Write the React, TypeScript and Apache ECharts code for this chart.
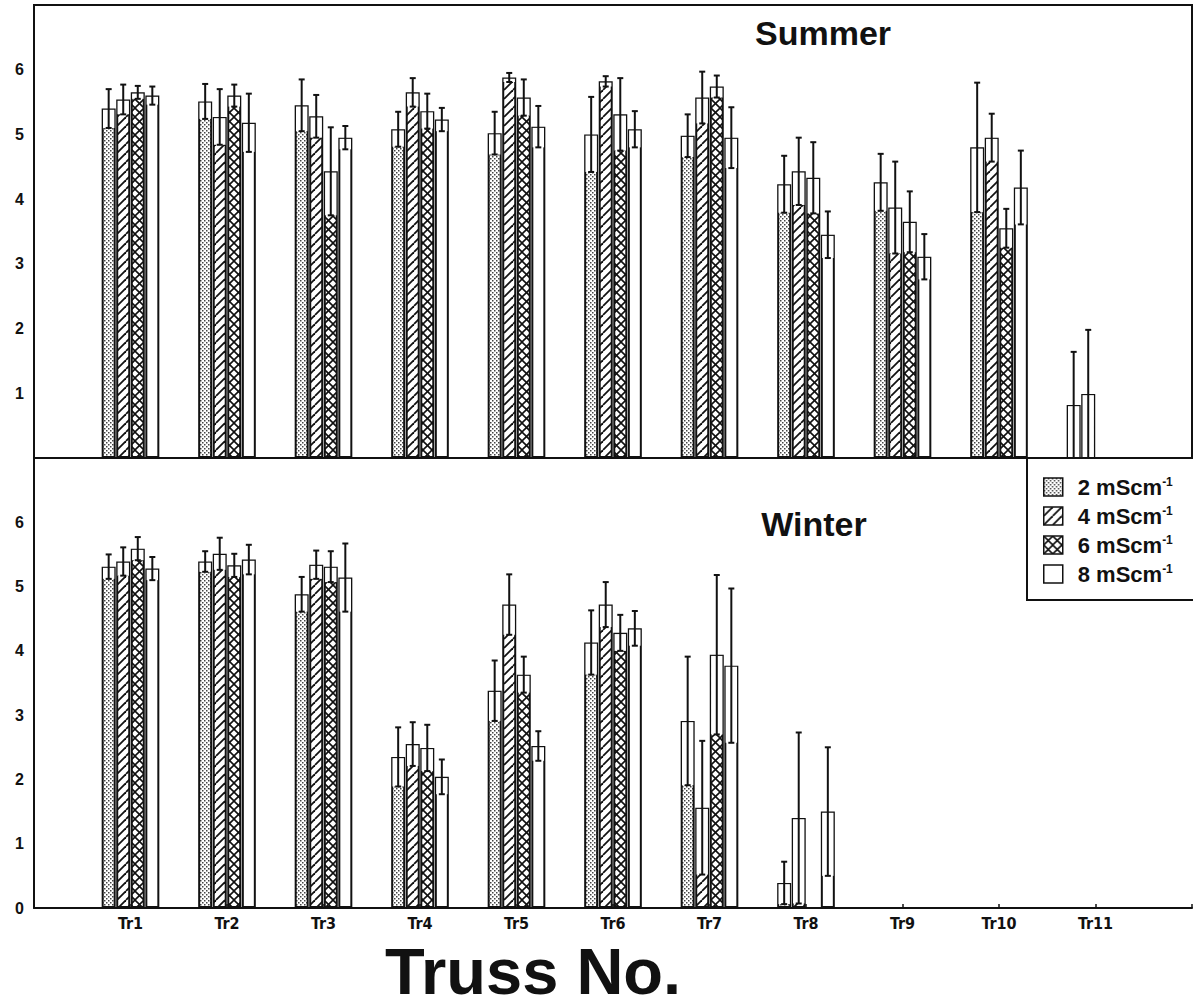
import React, { useEffect, useRef } from "react";
import * as echarts from "echarts";

// Truss labels along the shared x axis
const categories = ["Tr1", "Tr2", "Tr3", "Tr4", "Tr5", "Tr6", "Tr7", "Tr8", "Tr9", "Tr10", "Tr11"];
const levels = ["2 mScm-1", "4 mScm-1", "6 mScm-1", "8 mScm-1"];

// Summer panel: means and error half-widths per EC level
const summer2 = [5.4, 5.51, 5.45, 5.08, 5.02, 5.0, 4.98, 4.23, 4.26, 4.8, 0.82];
const summer2Err = [0.3, 0.27, 0.4, 0.27, 0.33, 0.58, 0.33, 0.44, 0.44, 1.0, 0.82];
const summer4 = [5.54, 5.27, 5.28, 5.65, 5.88, 5.82, 5.57, 4.43, 3.87, 4.95, 0.99];
const summer4Err = [0.23, 0.43, 0.33, 0.22, 0.07, 0.08, 0.4, 0.52, 0.71, 0.37, 0.99];
const summer6 = [5.65, 5.6, 4.43, 5.36, 5.57, 5.31, 5.74, 4.33, 3.65, 3.55, null];
const summer6Err = [0.1, 0.17, 0.68, 0.27, 0.28, 0.56, 0.17, 0.55, 0.47, 0.3, null];
const summer8 = [5.6, 5.18, 4.95, 5.23, 5.12, 5.08, 4.95, 3.45, 3.11, 4.18, null];
const summer8Err = [0.14, 0.45, 0.18, 0.18, 0.32, 0.28, 0.47, 0.36, 0.35, 0.57, null];

// Winter panel
const winter2 = [5.31, 5.39, 4.88, 2.35, 3.38, 4.13, 2.91, 0.39, null, null, null];
const winter2Err = [0.19, 0.16, 0.27, 0.46, 0.47, 0.5, 1.0, 0.33, null, null, null];
const winter4 = [5.39, 5.51, 5.34, 2.55, 4.72, 4.72, 1.56, 1.4, null, null, null];
const winter4Err = [0.22, 0.25, 0.22, 0.34, 0.47, 0.35, 1.04, 1.33, null, null, null];
const winter6 = [5.59, 5.33, 5.31, 2.49, 3.63, 4.28, 3.94, null, null, null, null];
const winter6Err = [0.18, 0.18, 0.24, 0.36, 0.28, 0.28, 1.24, null, null, null, null];
const winter8 = [5.28, 5.42, 5.14, 2.04, 2.52, 4.35, 3.77, 1.5, null, null, null];
const winter8Err = [0.18, 0.23, 0.53, 0.27, 0.23, 0.27, 1.2, 1.0, null, null, null];

// y axis range shared by both panels
const valueMin = 0;
const valueMax = 7;
const valueStep = 1;

const INK = "#111";
const FONT = '"Liberation Sans", Arial, Helvetica, sans-serif';
const NARROW = '"Liberation Sans Narrow", "Arial Narrow", "DejaVu Sans Condensed", "Liberation Sans", Arial, sans-serif';
const BAR_W = 0.145; // bar width as a share of the category band
const BAR_GAP = 0.04; // gap between bars as a share of bar width

type Num = number | null;

function tile(size: number, draw: (ctx: CanvasRenderingContext2D, s: number) => void) {
  const c = document.createElement("canvas");
  c.width = size;
  c.height = size;
  const ctx = c.getContext("2d") as CanvasRenderingContext2D;
  ctx.fillStyle = "#fff";
  ctx.fillRect(0, 0, size, size);
  draw(ctx, size);
  return { image: c, repeat: "repeat", imageWidth: size, imageHeight: size } as any;
}

function buildFills() {
  const dots = tile(4, (ctx) => {
    ctx.fillStyle = "#444";
    ctx.fillRect(0, 0, 1.5, 1.5);
    ctx.fillRect(2, 2, 1.5, 1.5);
  });
  const hatch = tile(9, (ctx, s) => {
    ctx.strokeStyle = INK;
    ctx.lineWidth = 1.8;
    for (let k = -1; k <= 1; k++) {
      ctx.beginPath();
      ctx.moveTo(k * s, s);
      ctx.lineTo(k * s + s, 0);
      ctx.stroke();
    }
  });
  const cross = tile(9, (ctx, s) => {
    ctx.strokeStyle = INK;
    ctx.lineWidth = 1.6;
    for (let k = -1; k <= 1; k++) {
      ctx.beginPath();
      ctx.moveTo(k * s, s);
      ctx.lineTo(k * s + s, 0);
      ctx.stroke();
      ctx.beginPath();
      ctx.moveTo(k * s, 0);
      ctx.lineTo(k * s + s, s);
      ctx.stroke();
    }
  });
  return [dots, hatch, cross, "#ffffff"];
}

// pad with empty slots so that Tr1..Tr11 sit at positions 1..11 of a 0..12 axis
const xSlots = ["", ...categories, ""];
const pad = (arr: Num[]) => [null, ...arr, null];

function errorRenderer(level: number) {
  return (params: any, api: any) => {
    const xi = api.value(0);
    const v = api.value(1);
    const e = api.value(2);
    const bw = api.size([1, 0])[0];
    const w = bw * BAR_W;
    const g = w * BAR_GAP;
    const total = 4 * w + 3 * g;
    const base = api.coord([xi, 0]);
    const cx = base[0] - total / 2 + level * (w + g) + w / 2;
    const yTop = api.coord([xi, v + e])[1];
    const yVal = api.coord([xi, v])[1];
    const yLow = api.coord([xi, Math.max(v - e, 0)])[1];
    const cap = 3;
    return {
      type: "group",
      children: [
        {
          type: "rect",
          shape: { x: cx - w / 2 + 1.3, y: yVal + 1.2, width: w - 2.6, height: Math.max(yLow - yVal - 1.2, 0) },
          style: { fill: "#fff" },
        },
        { type: "line", shape: { x1: cx, y1: yTop, x2: cx, y2: yLow }, style: { stroke: INK, lineWidth: 2 } },
        { type: "line", shape: { x1: cx - cap, y1: yTop, x2: cx + cap, y2: yTop }, style: { stroke: INK, lineWidth: 2 } },
        { type: "line", shape: { x1: cx - cap, y1: yLow, x2: cx + cap, y2: yLow }, style: { stroke: INK, lineWidth: 2 } },
      ],
    };
  };
}

export default function App() {
  const ref = useRef<HTMLDivElement>(null);

  useEffect(() => {
    if (!ref.current) return;
    const chart = echarts.init(ref.current, null, { renderer: "svg" });
    const fills = buildFills();

    const panels = [
      { means: [summer2, summer4, summer6, summer8], errs: [summer2Err, summer4Err, summer6Err, summer8Err] },
      { means: [winter2, winter4, winter6, winter8], errs: [winter2Err, winter4Err, winter6Err, winter8Err] },
    ];

    const series: any[] = [];
    panels.forEach((panel, p) => {
      panel.means.forEach((vals, i) => {
        series.push({
          type: "bar",
          name: levels[i],
          xAxisIndex: p,
          yAxisIndex: p,
          data: pad(vals),
          barWidth: `${BAR_W * 100}%`,
          barGap: `${BAR_GAP * 100}%`,
          silent: true,
          itemStyle: { color: fills[i], borderColor: INK, borderWidth: 2 },
        });
      });
      panel.means.forEach((vals, i) => {
        const pts: any[] = [];
        vals.forEach((v, k) => {
          const e = panel.errs[i][k];
          if (v != null && e != null) pts.push([k + 1, v, e]);
        });
        series.push({
          type: "custom",
          name: `err-${p}-${i}`,
          xAxisIndex: p,
          yAxisIndex: p,
          data: pts,
          silent: true,
          z: 5,
          encode: { x: 0, y: 1 },
          renderItem: errorRenderer(i),
        });
      });
    });

    const yAxis = (p: number) => ({
      type: "value",
      gridIndex: p,
      min: valueMin,
      max: valueMax,
      interval: valueStep,
      axisLine: { show: true, lineStyle: { color: INK, width: 2 } },
      axisTick: { show: false },
      splitLine: { show: false },
      axisLabel: {
        color: INK,
        fontSize: 16,
        fontWeight: "bold",
        fontFamily: FONT,
        margin: 10,
        showMinLabel: p === 1,
        showMaxLabel: false,
      },
    });

    chart.setOption({
      animation: false,
      backgroundColor: "#fff",
      grid: [
        { left: 34, top: 5, width: 1158, height: 453, show: true, borderColor: INK, borderWidth: 2, outerBoundsMode: "none" },
        { left: 34, top: 458, width: 1158, height: 450, outerBoundsMode: "none" },
      ],
      xAxis: [
        {
          type: "category",
          gridIndex: 0,
          data: xSlots,
          boundaryGap: false,
          axisLine: { show: false },
          axisTick: { show: false },
          axisLabel: { show: false },
        },
        {
          type: "category",
          gridIndex: 1,
          data: xSlots,
          boundaryGap: false,
          axisLine: { show: true, lineStyle: { color: INK, width: 2 } },
          axisTick: { show: true, inside: true, length: 4, lineStyle: { color: INK, width: 1.5 } },
          axisLabel: { interval: 0, color: INK, fontSize: 16, fontWeight: "bold", fontFamily: NARROW, margin: 7, lineHeight: 16 },
        },
      ],
      yAxis: [yAxis(0), yAxis(1)],
      legend: {
        data: levels,
        orient: "vertical",
        left: 1043,
        top: 476,
        padding: 0,
        itemWidth: 19,
        itemHeight: 18,
        itemGap: 7,
        icon: "rect",
        selectedMode: false,
        itemStyle: { borderColor: INK, borderWidth: 1.5 },
        formatter: (name: string) => {
          const [num] = name.split(" ");
          return `{v|${num} mScm}{s|-1}`;
        },
        textStyle: {
          rich: {
            v: { fontSize: 22, fontWeight: "bold", fontFamily: FONT, color: INK, lineHeight: 22, padding: [0, 0, 0, 10] },
            s: { fontSize: 12, fontWeight: "bold", fontFamily: FONT, color: INK, verticalAlign: "top", lineHeight: 12 },
          },
        },
      },
      graphic: [
        {
          type: "rect",
          shape: { x: 1027, y: 458, width: 175, height: 142 },
          style: { fill: "none", stroke: INK, lineWidth: 2 },
          z: 10,
        },
        {
          type: "text",
          x: 823,
          y: 33,
          style: { text: "Summer", fill: INK, font: `bold 34px ${FONT}`, align: "center", verticalAlign: "middle" },
        },
        {
          type: "text",
          x: 814,
          y: 524,
          style: { text: "Winter", fill: INK, font: `bold 34px ${FONT}`, align: "center", verticalAlign: "middle" },
        },
        {
          type: "text",
          x: 533,
          y: 971,
          style: {
            text: "Truss No.",
            fill: INK,
            font: `bold 65px ${FONT}`,
            lineHeight: 50,
            align: "center",
            verticalAlign: "middle",
          },
        },
      ],
      series,
    });

    return () => chart.dispose();
  }, []);

  return (
    <div
      ref={ref}
      style={{ position: "absolute", left: 0, top: 0, width: 1193, height: 1007, background: "#fff" }}
    />
  );
}
